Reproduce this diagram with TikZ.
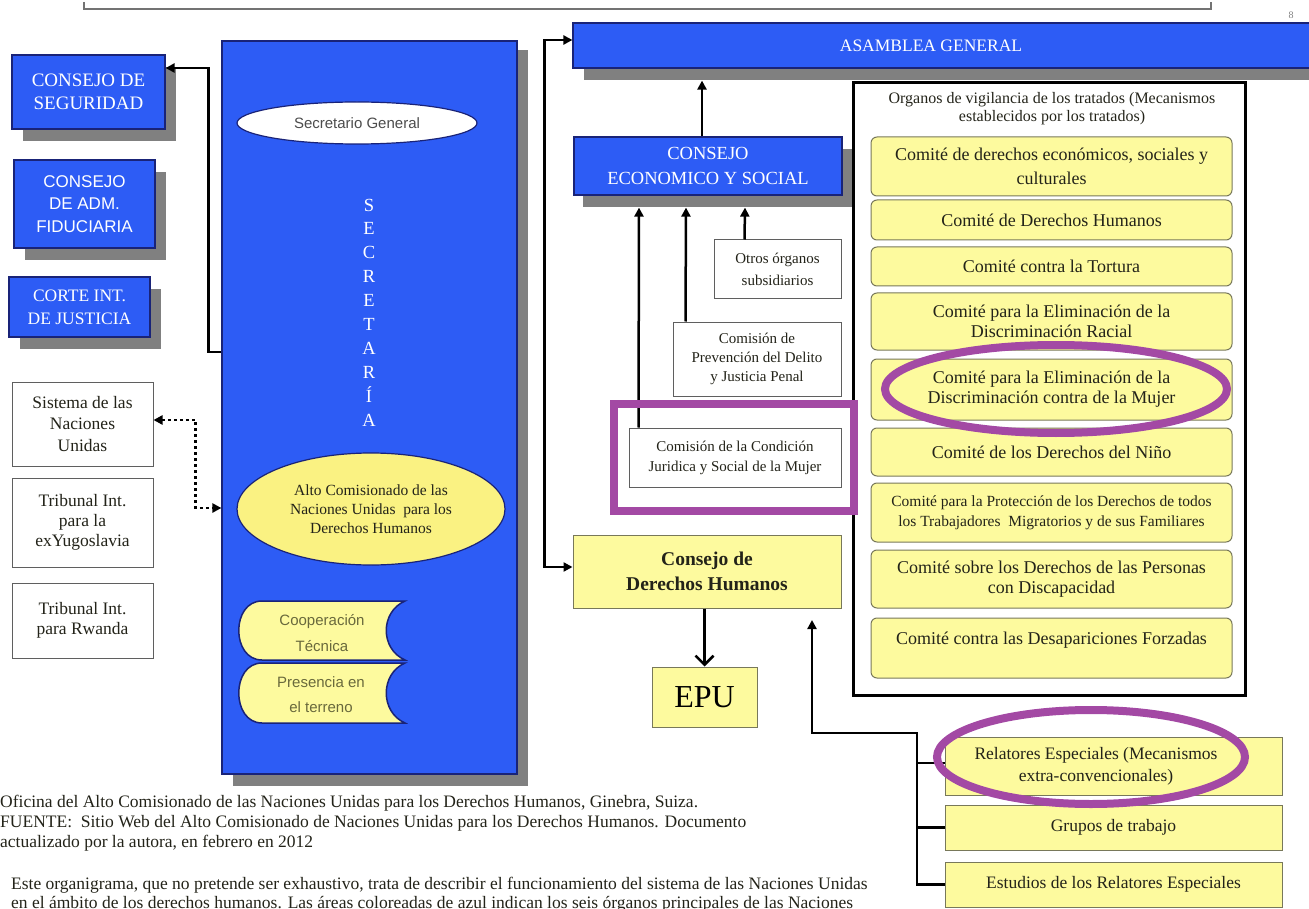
\documentclass[tikz,border=0pt]{standalone}
\usepackage{fontspec}
\setmainfont{Liberation Serif}
\newfontfamily\arialf{Liberation Sans}
\usetikzlibrary{arrows.meta,shapes.geometric,shadows}
\newcommand{\myfs}[2]{\fontsize{#1}{#2}\selectfont}
\definecolor{unblue}{RGB}{45,92,245}
\definecolor{navy}{RGB}{25,35,120}
\definecolor{shgray}{RGB}{128,128,128}
\definecolor{ylw}{RGB}{253,250,158}
\definecolor{ylwalto}{RGB}{250,242,130}
\definecolor{ylwb}{RGB}{120,120,90}
\definecolor{purp}{RGB}{163,73,164}
\definecolor{olivet}{RGB}{105,105,60}
\definecolor{boxgray}{RGB}{95,95,95}
\definecolor{txt}{RGB}{35,35,25}
\tikzset{
  x=1pt, y=-1pt,
  bluebox/.style={draw=navy, line width=1.2pt, fill=unblue, text=white, inner sep=0pt, align=center,
    drop shadow={shadow xshift=11pt, shadow yshift=-12pt, fill=shgray, opacity=1}},
  whitebox/.style={draw=boxgray, line width=1pt, fill=white, inner sep=0pt, align=center, text=txt},
  ybox/.style={draw=ylwb, line width=1pt, fill=ylw, inner sep=0pt, align=center, text=txt},
  tbox/.style={ybox, rounded corners=6pt, minimum width=361pt, font={\myfs{18}{20}}},
  rbox/.style={ybox, minimum width=337pt, font={\myfs{17.5}{22}}},
  scroll/.style={draw=navy, line width=1.5pt, fill=ylw},
  arr/.style={line width=2.5pt, -{Triangle[length=9pt,width=9pt]}},
  arrboth/.style={line width=2.5pt, {Triangle[length=9pt,width=9pt]}-{Triangle[length=9pt,width=9pt]}},
  dotarr/.style={line width=2.5pt, dash pattern=on 3pt off 3pt, {Triangle[length=9pt,width=9pt]}-{Triangle[length=9pt,width=9pt]}},
  plain/.style={line width=2.5pt},
  epuarr/.style={line width=2.5pt, -{Straight Barb[length=9pt,width=18pt]}},
  hl/.style={draw=purp, line width=8pt, inner sep=0pt},
  caption/.style={anchor=west, inner sep=0pt, text=txt, font={\myfs{17.5}{20}}}
}
\begin{document}
\begin{tikzpicture}
\useasboundingbox (0,0) rectangle (1309,909);

% top rule and page number
\draw[shgray!90!black, line width=2pt] (84,2) -- (84,9) -- (1211,9) -- (1211,2);
\node[text=shgray, font={\myfs{10}{10}}] (pg) at (1291,15) {8};

% left column
\node[bluebox, minimum width=153pt, minimum height=74pt, font={\myfs{19}{23}}] (cds) at (88.5,92) {CONSEJO DE\\SEGURIDAD};
\node[bluebox, minimum width=141pt, minimum height=88pt, font={\arialf\myfs{17}{22.5}}] (caf) at (84.5,204) {CONSEJO\\DE ADM.\\FIDUCIARIA};
\node[bluebox, minimum width=141pt, minimum height=60pt, font={\myfs{17.5}{23}}] (cij) at (79.5,307) {CORTE INT.\\DE JUSTICIA};

\node[whitebox, minimum width=141pt, minimum height=84pt, font={\myfs{17.5}{21.5}}] (sist) at (82.5,424) {Sistema de las\\Naciones\\Unidas};
\node[whitebox, minimum width=141pt, minimum height=89pt, font={\myfs{17.5}{20}}] (tyug) at (82.5,522.5) {Tribunal Int.\\para la\\exYugoslavia};
\node[whitebox, minimum width=141pt, minimum height=75pt, font={\myfs{17.5}{20}}] (trw) at (82.5,620.5) {Tribunal Int.\\para Rwanda};

% Secretaria
\node[bluebox, minimum width=295pt, minimum height=733pt,
  drop shadow={shadow xshift=11pt, shadow yshift=-9pt, fill=shgray, opacity=1}] (secr) at (369.5,407.5) {};
\node[ellipse, draw=navy, line width=1.2pt, fill=white, minimum width=240pt, minimum height=42pt, inner sep=0pt,
  font={\arialf\myfs{15}{16}}, text=black!70] (sg) at (357,123) {Secretario General};
\node[text=white, align=center, inner sep=0pt, font={\myfs{18.5}{23.9}}] (secrt) at (369,312.5) {S\\E\\C\\R\\E\\T\\A\\R\\Í\\A};
\node[ellipse, draw=navy, line width=1.2pt, fill=ylwalto, minimum width=268pt, minimum height=112pt, inner sep=0pt,
  align=center, text=txt, font={\myfs{15.5}{19}}] (alto) at (371,509) {Alto Comisionado de las\\Naciones Unidas\ \ para los\\Derechos Humanos};

\draw[scroll] (262,601) -- (405,601) .. controls (380,612) and (380,649) .. (405,660) -- (262,660) .. controls (231,660) and (231,601) .. (262,601) -- cycle;
\node[align=center, text=olivet, inner sep=0pt, font={\arialf\myfs{15}{26}}] (coop) at (322,633) {Cooperación\\Técnica};
\draw[scroll] (262,663) -- (405,663) .. controls (380,674) and (380,712) .. (405,723) -- (262,723) .. controls (231,723) and (231,663) .. (262,663) -- cycle;
\node[align=center, text=olivet, inner sep=0pt, font={\arialf\myfs{15}{25}}] (pres) at (321,695) {Presencia en\\el terreno};

% Asamblea and ECOSOC
\node[bluebox, minimum width=740pt, minimum height=45pt] (asam) at (943,45.5) {};
\node[text=white, inner sep=0pt, font={\myfs{17.5}{20}}] (asamt) at (931,45.5) {ASAMBLEA GENERAL};
\node[bluebox, minimum width=268pt, minimum height=58pt, font={\myfs{18.5}{25}},
  drop shadow={shadow xshift=9pt, shadow yshift=-12pt, fill=shgray, opacity=1}] (eco) at (708,166) {CONSEJO\\ECONOMICO Y SOCIAL};

% subsidiary bodies
\node[whitebox, minimum width=127pt, minimum height=59pt, font={\myfs{15}{22}}] (otros) at (777.5,269.5) {Otros órganos\\subsidiarios};
\node[whitebox, minimum width=168pt, minimum height=74pt, font={\myfs{15}{19}}] (prev) at (757,359) {Comisión de\\Prevención del Delito\\y Justicia Penal};
\node[whitebox, minimum width=212pt, minimum height=59pt, font={\myfs{15}{20}}] (cmuj) at (735,457.5) {Comisión de la Condición\\Juridica y Social de la Mujer};

\node[ybox, minimum width=268pt, minimum height=73pt, font={\bfseries\myfs{19.5}{25}}] (cdh) at (707,571.5) {Consejo de\\Derechos Humanos};
\node[ybox, minimum width=105pt, minimum height=60pt, text=black, font={\myfs{32}{32}}] (epu) at (704.5,697) {EPU};

% treaty bodies
\node[draw=black, line width=3pt, minimum width=392pt, minimum height=612pt, inner sep=0pt] (tre) at (1049,389) {};
\node[align=center, inner sep=0pt, text=txt, font={\myfs{16}{18}}] (trh) at (1052,109) {Organos de vigilancia de los tratados (Mecanismos\\establecidos por los tratados)};
\node[tbox, minimum height=59pt, font={\myfs{18}{24}}] (t1) at (1051.5,166.5) {Comité de derechos económicos, sociales y\\culturales};
\node[tbox, minimum height=40pt] (t2) at (1051.5,220) {Comité de Derechos Humanos};
\node[tbox, minimum height=39pt] (t3) at (1051.5,266.5) {Comité contra la Tortura};
\node[tbox, minimum height=57pt] (t4) at (1051.5,321.5) {Comité para la Eliminación de la\\Discriminación Racial};
\node[tbox, minimum height=61pt] (t5) at (1051.5,389.5) {Comité para la Eliminación de la\\Discriminación contra de la Mujer};
\node[tbox, minimum height=48pt] (t6) at (1051.5,452) {Comité de los Derechos del Niño};
\node[tbox, minimum height=59pt, font={\myfs{15.5}{20}}] (t7) at (1051.5,512.5) {Comité para la Protección de los Derechos de todos\\los Trabajadores\ \ Migratorios y de sus Familiares};
\node[tbox, minimum height=58pt] (t8) at (1051.5,579) {Comité sobre los Derechos de las Personas\\con Discapacidad};
\node[tbox, minimum height=60pt] (t9) at (1051.5,648) {Comité contra las Desapariciones Forzadas\\\mbox{}};

% special procedures
\node[rbox, minimum height=58pt] (rel) at (1113.5,766) {};
\node[align=center, inner sep=0pt, text=txt, font={\myfs{17.5}{22}}] (relt) at (1096,766) {Relatores Especiales (Mecanismos\\extra-convencionales)};
\node[rbox, minimum height=45pt] (grp) at (1113.5,827.5) {Grupos de trabajo};
\node[rbox, minimum height=45pt] (est) at (1113.5,884.5) {Estudios de los Relatores Especiales};

% connectors
\draw[arr] ([yshift=55.5pt]secr.west) -- ++(-13,0) |- ([yshift=24pt]cds.east);
\draw[dotarr] ([yshift=4pt]sist.east) -- ++(42,0) |- ([yshift=-100.5pt]secr.west);
\draw[arrboth] ([yshift=5.5pt]asam.west) -- ++(-28,0) |- ([yshift=4.5pt]cdh.west);
\draw[arr] ([xshift=-6pt]eco.north) -- ([xshift=-241pt,yshift=-12pt]asam.south);
\draw[arr] ([xshift=10pt]cmuj.north west) -- ([xshift=-69pt,yshift=-12pt]eco.south);
\draw[arr] ([xshift=13pt]prev.north west) -- ([xshift=-22pt,yshift=-12pt]eco.south);
\draw[arr] ([xshift=31pt]otros.north west) -- ([xshift=37pt,yshift=-12pt]eco.south);
\draw[epuarr] (cdh.south -| epu.north) -- (epu.north);
\coordinate (rj) at (917,733);
\coordinate (cdhin) at (812,620);
\draw[plain] ([yshift=3pt]rel.west) -- ([yshift=3pt]rel.west -| rj);
\draw[plain] (grp.west) -- (grp.west -| rj);
\draw[arr] (est.west) -| (rj) -| (cdhin);

% highlights
\node[hl, minimum width=240pt, minimum height=107pt] (hl1) at (734,457.5) {};
\node[hl, ellipse, minimum width=342pt, minimum height=88pt] (hl2) at (1056,389) {};
\node[hl, ellipse, minimum width=308pt, minimum height=94pt] (hl3) at (1091,757) {};

% captions
\node[caption] (c1) at (0,803) {Oficina del Alto Comisionado de las Naciones Unidas para los Derechos Humanos, Ginebra, Suiza.};
\node[caption] (c2) at (0,823) {FUENTE:\ \ Sitio Web del Alto Comisionado de Naciones Unidas para los Derechos Humanos. Documento};
\node[caption] (c3) at (0,843) {actualizado por la autora, en febrero en 2012};
\node[caption] (c4) at (11,885) {Este organigrama, que no pretende ser exhaustivo, trata de describir el funcionamiento del sistema de las Naciones Unidas};
\node[caption] (c5) at (11,904) {en el ámbito de los derechos humanos. Las áreas coloreadas de azul indican los seis órganos principales de las Naciones};
\end{tikzpicture}
\end{document}
